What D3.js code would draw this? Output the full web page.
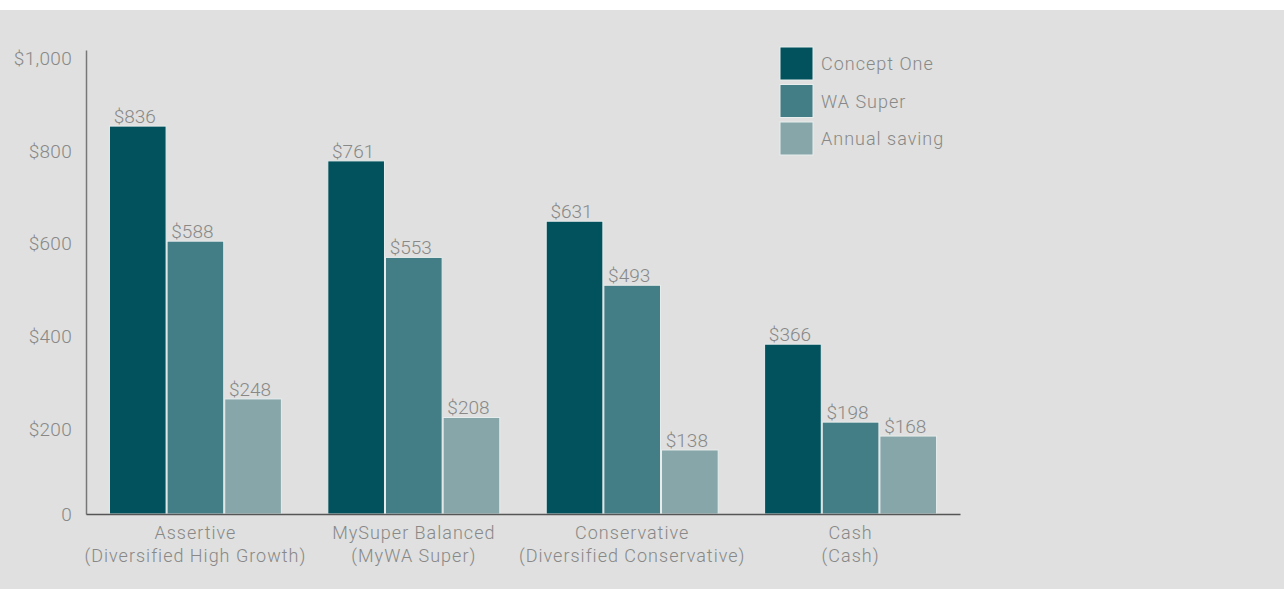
<!DOCTYPE html>
<html><head><meta charset="utf-8">
<script src="https://cdn.jsdelivr.net/npm/d3@7"></script>
<style>
html,body{margin:0;padding:0;background:#dfe0df;}
svg{display:block;font-family:Roboto, "Open Sans", sans-serif;font-weight:300;}
</style></head><body>
<svg id="chart" width="1284" height="589"></svg>
<script>
const categoriesLine1 = ["Assertive", "MySuper Balanced", "Conservative", "Cash"];
const categoriesLine2 = ["(Diversified High Growth)", "(MyWA Super)", "(Diversified Conservative)", "(Cash)"];
const seriesNames = ["Concept One", "WA Super", "Annual saving"];
const conceptOne = [836, 761, 631, 366];
const waSuper = [588, 553, 493, 198];
const annualSaving = [248, 208, 138, 168];
const tickValues = [0, 200, 400, 600, 800, 1000];
const tickLabels = ["0", "$200", "$400", "$600", "$800", "$1,000"];
const colors = ["#01525c", "#437d85", "#86a6aa"];

(function(){
const seriesValues = [conceptOne, waSuper, annualSaving];
const svg = d3.select("#chart");
const W = 1284, H = 589;
const textColor = "#888888";

svg.append("rect").attr("x",0).attr("y",0).attr("width",W).attr("height",H).attr("fill","#dfe0df");
svg.append("rect").attr("x",0).attr("y",0).attr("width",W).attr("height",10).attr("fill","#ffffff");

const mLeft = 86, mRight = 960, mTop = 50, mBottom = 514;
const x0 = d3.scaleBand().domain(categoriesLine1).range([mLeft, mRight]).paddingInner(0.208).paddingOuter(0.105);
const x1 = d3.scaleBand().domain(seriesNames).range([0, x0.bandwidth()]).paddingInner(0.0);
const y = d3.scaleLinear().domain([0, 1000]).range([mBottom, mTop]);

const groups = svg.append("g").selectAll("g").data(categoriesLine1).join("g")
  .attr("transform", d => `translate(${x0(d)},0)`);
groups.each(function(cat, ci){
  const g = d3.select(this);
  const data = seriesNames.map((s, si) => ({s, si, v: seriesValues[si][ci]}));
  g.selectAll("rect").data(data).join("rect")
    .attr("x", d => x1(d.s) + 0.5)
    .attr("y", d => y(d.v))
    .attr("width", x1.bandwidth() - 1)
    .attr("height", d => mBottom - y(d.v))
    .attr("fill", d => colors[d.si])
    .attr("stroke", "#e8eded")
    .attr("stroke-width", 1);
  g.selectAll("text.val").data(data).join("text")
    .attr("class","val")
    .attr("x", d => x1(d.s) + x1.bandwidth()/2 - 3)
    .attr("y", d => y(d.v) - 3)
    .attr("text-anchor","middle")
    .attr("font-size", 19)
    .attr("fill", textColor)
    .text(d => "$" + d.v);
});

const yAxis = d3.axisLeft(y).tickValues(tickValues).tickSize(0).tickPadding(14)
  .tickFormat((d,i) => tickLabels[i]);
const ya = svg.append("g").attr("transform", `translate(${mLeft},0)`).call(yAxis);
ya.select(".domain").attr("stroke","#777").attr("stroke-width",1.5);
ya.selectAll("text").attr("font-size",19).attr("fill",textColor)
  .attr("font-family","Roboto, sans-serif").attr("font-weight",300)
  .attr("letter-spacing","0.3px")
  .attr("dy", d => d === 0 ? "0.32em" : "0.75em");

const xAxis = d3.axisBottom(x0).tickSize(0).tickFormat("");
const xa = svg.append("g").attr("transform", `translate(0,${mBottom})`).call(xAxis);
xa.select(".domain").attr("stroke","#555").attr("stroke-width",1.5);

const catG = svg.append("g");
categoriesLine1.forEach((c, i) => {
  const cx = x0(c) + x0.bandwidth()/2;
  const t = catG.append("text").attr("x", cx).attr("y", 539).attr("text-anchor","middle")
    .attr("font-size",18).attr("letter-spacing","1px").attr("fill",textColor);
  t.append("tspan").attr("x", cx).text(c);
  t.append("tspan").attr("x", cx).attr("dy", 23).text(categoriesLine2[i]);
});

const lg = svg.append("g").attr("transform","translate(780,47)");
seriesNames.forEach((s, i) => {
  lg.append("rect").attr("x",0).attr("y", i*37.5).attr("width",33).attr("height",33)
    .attr("fill", colors[i]).attr("stroke","#e8eded").attr("stroke-width",1);
  lg.append("text").attr("x",41).attr("y", i*37.5 + 17).attr("dy","0.35em")
    .attr("font-size",18).attr("letter-spacing","1px").attr("fill",textColor).text(s);
});
})();
</script>
</body></html>
